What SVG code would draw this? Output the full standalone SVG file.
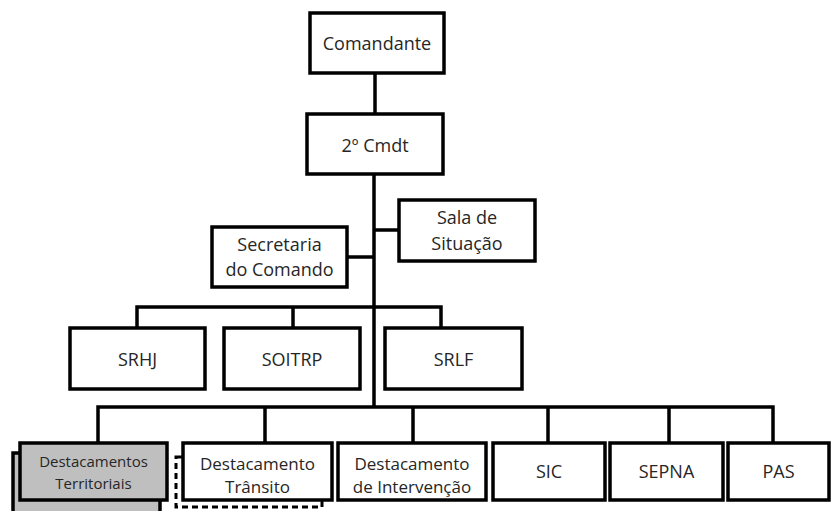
<svg xmlns="http://www.w3.org/2000/svg" width="831" height="511" viewBox="0 0 831 511">
<style>
.box{fill:#fff;stroke:#000;stroke-width:3.5}
.gray{fill:#bfbfbf;stroke:#000;stroke-width:3.5}
.dash{fill:#fff;stroke:#000;stroke-width:3;stroke-dasharray:6 4}
.ln{fill:none;stroke:#000;stroke-width:3.5}
text{font-family:"Open Sans","Liberation Sans",sans-serif;font-size:18px;fill:#262626;text-anchor:middle}
.md{font-size:17px}
.sm{font-size:15px}
</style>
<rect width="831" height="511" fill="#fff"/>
<g id="connectors">
<path class="ln" d="M375 73V115M374 174V407M374 230H399M347 257H374"/>
<path class="ln" d="M137 328V307H441V328M293 307V328"/>
<path class="ln" d="M98 443V407H773V443M265 407V443M413 407V443M548 407V443M669 407V443"/>
</g>
<g id="comandante"><rect class="box" x="310" y="13" width="134" height="60"/><text x="377" y="49.5">Comandante</text></g>
<g id="cmdt2"><rect class="box" x="307" y="114" width="136" height="60"/><text x="375" y="152">2º Cmdt</text></g>
<g id="sala"><rect class="box" x="399" y="200" width="136" height="61"/><text x="467" y="224">Sala de</text><text x="467" y="250">Situação</text></g>
<g id="secretaria"><rect class="box" x="212" y="227" width="135" height="60"/><text x="279.5" y="251">Secretaria</text><text x="279.5" y="276">do Comando</text></g>
<g id="srhj"><rect class="box" x="70" y="328" width="135" height="61"/><text x="137.5" y="366">SRHJ</text></g>
<g id="soitrp"><rect class="box" x="224" y="328" width="136" height="61"/><text x="292" y="366">SOITRP</text></g>
<g id="srlf"><rect class="box" x="385" y="328" width="137" height="61"/><text x="453.5" y="366">SRLF</text></g>
<g id="territoriais"><rect class="gray" x="13" y="453" width="147" height="70"/><rect class="gray" x="20" y="443" width="147" height="57"/><text class="sm" x="93.5" y="467">Destacamentos</text><text class="sm" x="93.5" y="489">Territoriais</text></g>
<g id="transito"><rect class="dash" x="176" y="457" width="146" height="50"/><rect class="box" x="183" y="443" width="149" height="57"/><text class="md" x="257.5" y="470">Destacamento</text><text class="md" x="257.5" y="493">Trânsito</text></g>
<g id="intervencao"><rect class="box" x="338" y="443" width="148" height="57"/><text class="md" x="412" y="470">Destacamento</text><text class="md" x="412" y="493">de Intervenção</text></g>
<g id="sic"><rect class="box" x="493" y="443" width="112" height="57"/><text x="549" y="478">SIC</text></g>
<g id="sepna"><rect class="box" x="610" y="443" width="113" height="57"/><text x="666.5" y="478">SEPNA</text></g>
<g id="pas"><rect class="box" x="728" y="443" width="101" height="57"/><text x="778.5" y="478">PAS</text></g>
</svg>
